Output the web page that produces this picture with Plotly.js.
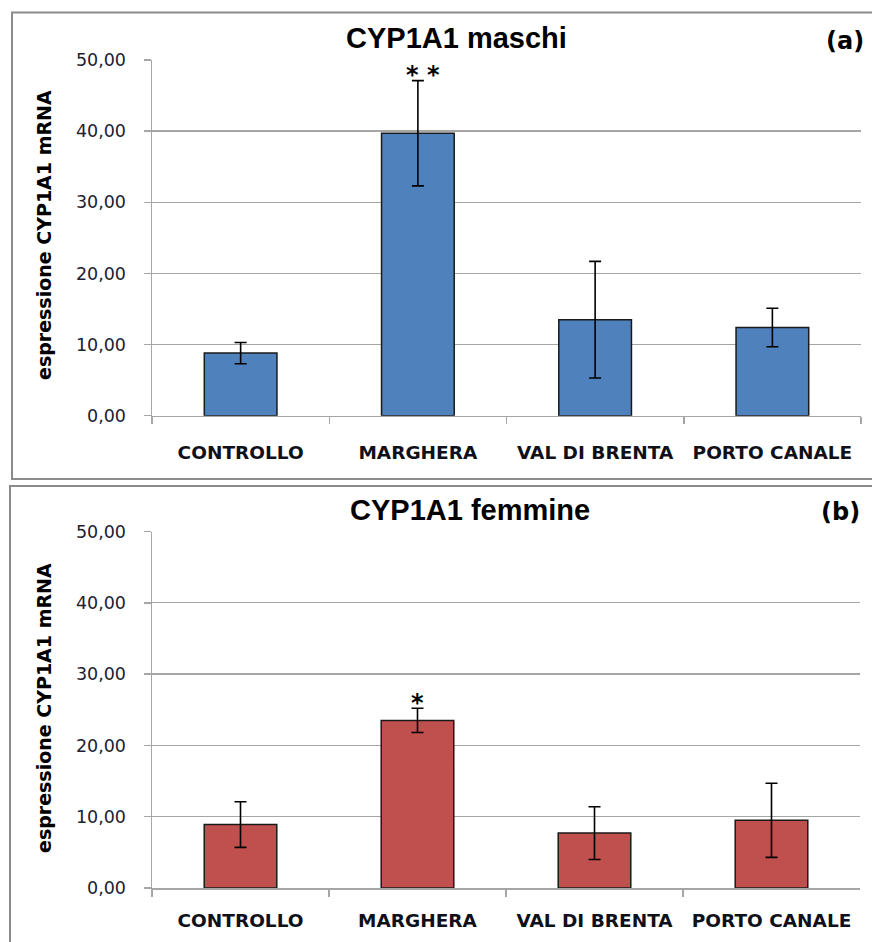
<!DOCTYPE html>
<html>
<head>
<meta charset="utf-8">
<script src="https://cdn.plot.ly/plotly-3.0.1.min.js"></script>
<style>html,body{margin:0;padding:0;background:#fff;}#chart{width:872px;height:942px;}</style>
</head>
<body>
<div id="chart"></div>
<script>
const categories = ['CONTROLLO', 'MARGHERA', 'VAL DI BRENTA', 'PORTO CANALE'];
const maschi = [8.8, 39.7, 13.5, 12.4];
const maschiErr = [1.5, 7.4, 8.2, 2.7];
const femmine = [8.9, 23.5, 7.7, 9.5];
const femmineErr = [3.2, 1.7, 3.7, 5.2];
const yTickVals = [0, 10, 20, 30, 40, 50];
const titles = ['CYP1A1 maschi', 'CYP1A1 femmine'];
const panelLabels = ['(a)', '(b)'];
const yTitle = 'espressione CYP1A1 mRNA';
const signif = ['* *', '*'];

const W = 872, H = 942;
const px = v => v / W;
const py = v => 1 - v / H;

const barStyle = (color) => ({ color: color, line: { color: '#1a1a1a', width: 1.5 } });
const errStyle = (arr) => ({ type: 'data', array: arr, visible: true, color: '#000', thickness: 1.6, width: 6 });

const traces = [
  { type: 'bar', x: categories, y: maschi, xaxis: 'x', yaxis: 'y', width: 0.41,
    marker: barStyle('#4F81BD'), error_y: errStyle(maschiErr), hoverinfo: 'none' },
  { type: 'bar', x: categories, y: femmine, xaxis: 'x2', yaxis: 'y2', width: 0.41,
    marker: barStyle('#C0504D'), error_y: errStyle(femmineErr), hoverinfo: 'none' }
];

const gridC = '#a6a6a6';
const xax = (domain, standoff) => ({
  domain: domain, type: 'category', showline: true, linecolor: gridC, linewidth: 1.5,
  tickson: 'boundaries', ticks: 'outside', ticklen: 7, tickcolor: gridC, tickwidth: 1.5,
  showgrid: false, zeroline: false, ticklabelstandoff: standoff,
  tickfont: { family: 'DejaVu Sans', size: 18.5, color: '#101018', weight: 'bold' }, fixedrange: true
});
const yax = (domain) => ({
  domain: domain, range: [0, 50], tickvals: yTickVals, tickformat: '.2f',
  showline: true, linecolor: gridC, linewidth: 1.5, ticks: 'outside', ticklen: 7,
  tickcolor: gridC, tickwidth: 1.5, showgrid: true, gridcolor: gridC, gridwidth: 1.4,
  zeroline: false, ticklabelstandoff: 14,
  tickfont: { family: 'DejaVu Sans', size: 17.5, color: '#202034' }, fixedrange: true
});

const layout = {
  width: W, height: H, margin: { l: 0, r: 0, t: 0, b: 0 },
  paper_bgcolor: '#fff', plot_bgcolor: 'rgba(0,0,0,0)', showlegend: false,
  separators: ',.',
  xaxis: Object.assign(xax([px(152), px(861)], 20), { anchor: 'y' }),
  yaxis: Object.assign(yax([py(415.7), py(60)]), { anchor: 'x' }),
  xaxis2: Object.assign(xax([px(152), px(860)], 15), { anchor: 'y2' }),
  yaxis2: Object.assign(yax([py(888), py(531.5)]), { anchor: 'x2' }),
  shapes: [
    { type: 'rect', xref: 'paper', yref: 'paper', x0: px(12), x1: px(880), y0: py(12.5), y1: py(479),
      line: { color: '#8c8c8c', width: 2 } },
    { type: 'rect', xref: 'paper', yref: 'paper', x0: px(10), x1: px(880), y0: py(486), y1: py(950),
      line: { color: '#8c8c8c', width: 2 } }
  ],
  annotations: [
    { text: titles[0], xref: 'paper', yref: 'paper', x: px(456), y: py(38), xanchor: 'center', yanchor: 'middle',
      showarrow: false, font: { family: 'Liberation Sans', size: 29, color: '#000', weight: 'bold' } },
    { text: titles[1], xref: 'paper', yref: 'paper', x: px(470), y: py(510), xanchor: 'center', yanchor: 'middle',
      showarrow: false, font: { family: 'Liberation Sans', size: 29, color: '#000', weight: 'bold' } },
    { text: panelLabels[0], xref: 'paper', yref: 'paper', x: px(845), y: py(41), xanchor: 'center', yanchor: 'middle',
      showarrow: false, font: { family: 'DejaVu Sans', size: 24, color: '#000', weight: 'bold' } },
    { text: panelLabels[1], xref: 'paper', yref: 'paper', x: px(840), y: py(512), xanchor: 'center', yanchor: 'middle',
      showarrow: false, font: { family: 'DejaVu Sans', size: 24, color: '#000', weight: 'bold' } },
    { text: yTitle, xref: 'paper', yref: 'paper', x: px(44), y: py(235), xanchor: 'center', yanchor: 'middle',
      textangle: -90, showarrow: false, font: { family: 'DejaVu Sans', size: 19, color: '#000', weight: 'bold' } },
    { text: yTitle, xref: 'paper', yref: 'paper', x: px(44), y: py(708), xanchor: 'center', yanchor: 'middle',
      textangle: -90, showarrow: false, font: { family: 'DejaVu Sans', size: 19, color: '#000', weight: 'bold' } },
    { text: signif[0], xref: 'x', yref: 'y', x: categories[1], y: 47.9, xshift: 5, xanchor: 'center', yanchor: 'middle',
      showarrow: false, font: { family: 'DejaVu Sans', size: 24, color: '#000', weight: 'bold' } },
    { text: signif[1], xref: 'x2', yref: 'y2', x: categories[1], y: 26.0, xanchor: 'center', yanchor: 'middle',
      showarrow: false, font: { family: 'DejaVu Sans', size: 24, color: '#000', weight: 'bold' } }
  ]
};

Plotly.newPlot('chart', traces, layout, { staticPlot: true, displayModeBar: false });
</script>
</body>
</html>
